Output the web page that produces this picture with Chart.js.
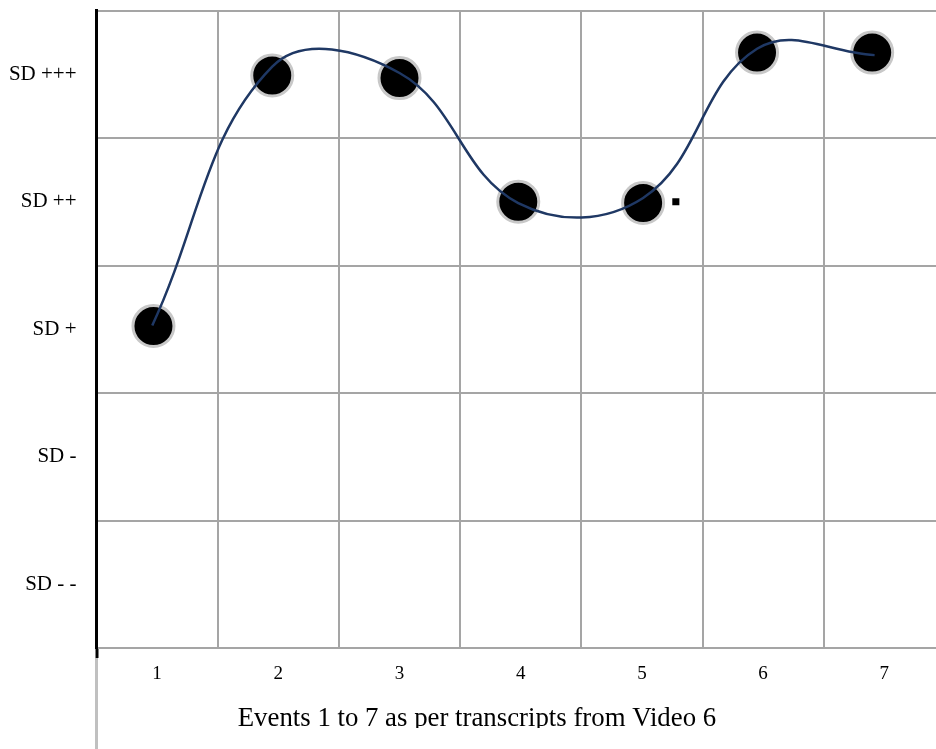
<!DOCTYPE html>
<html>
<head>
<meta charset="utf-8">
<script src="https://cdn.jsdelivr.net/npm/chart.js@4/dist/chart.umd.min.js"></script>
<style>
    html, body { margin: 0; padding: 0; background: #fff; overflow: hidden; }
    #wrap { position: relative; width: 936px; height: 749px; overflow: hidden; }
    #myChart { position: absolute; left: 0; top: 0; }
    #frameLine { position: absolute; left: 95px; top: 658px; width: 3px; height: 91px; background: #c0c0c0; }
</style>
</head>
<body>
<div id="wrap">
    <canvas id="myChart" width="946" height="728"></canvas>
    <div id="frameLine"></div>
</div>
<script>
"use strict";

//DATI
const eventTicks = [1, 2, 3, 4, 5, 6, 7];
const levelLabels = ["SD - -", "SD -", "SD +", "SD ++", "SD +++"];
const markerX = [0.97, 1.95, 3.0, 3.98, 5.01, 5.95, 6.9];
const markerLevel = [3.025, 4.99, 4.97, 4.0, 3.99, 5.17, 5.17];
const curveX = [0.96, 1.95, 3.0, 3.98, 5.01, 5.95, 6.92];
const curveLevel = [3.03, 5.06, 5.01, 3.99, 4.03, 5.2, 5.15];
const strayX = [5.28];
const strayLevel = [4.0];
const xTitle = "Events 1 to 7 as per transcripts from Video 6";

const gridColor = "#a5a5a5";
const serif = "'Liberation Serif', 'Times New Roman', serif";
const titleSize = 26.8;
const titleLine = 0.65;
const padLeft = 9;

function toPoints(xs, ys) {
    let pts = [];
    for (let i = 0; i < xs.length; i++) {
        pts.push({ x: xs[i], y: ys[i] });
    }
    return pts;
}

// ticks every half step: integers carry labels, halves carry grid lines
function halfSteps(from, to) {
    let t = [];
    for (let v = from; v <= to + 0.001; v += 0.5) {
        t.push({ value: v });
    }
    return t;
}

function isHalf(v) {
    return Math.abs(v - Math.round(v)) > 0.1;
}

//GRAFICO
let chart = new Chart(document.getElementById("myChart"), {
    type: "scatter",
    data: {
        datasets: [
            {
                data: toPoints(curveX, curveLevel),
                showLine: true,
                tension: 0.4,
                borderColor: "#1f3864",
                borderWidth: 2.5,
                pointRadius: 0,
                fill: false
            },
            {
                data: toPoints(markerX, markerLevel),
                pointRadius: 20.5,
                pointBorderWidth: 3,
                pointBackgroundColor: "#000",
                pointBorderColor: "#c8c8c8"
            },
            {
                data: toPoints(strayX, strayLevel),
                pointStyle: "rect",
                pointRadius: 5,
                pointBorderWidth: 0,
                pointBackgroundColor: "#000",
                pointBorderColor: "#000"
            }
        ]
    },
    options: {
        responsive: false,
        animation: false,
        events: [],
        layout: { autoPadding: false, padding: { top: 10.5, right: 1.1, bottom: 0, left: padLeft } },
        plugins: {
            legend: { display: false },
            tooltip: { enabled: false },
            title: {
                display: true,
                position: "bottom",
                text: xTitle,
                color: "#000",
                font: { family: serif, size: titleSize, weight: "normal", lineHeight: titleLine },
                padding: 0
            }
        },
        scales: {
            x: {
                type: "linear",
                min: 0.5,
                max: 7.5,
                afterBuildTicks: function (scale) { scale.ticks = halfSteps(0.5, 7.5); },
                afterFit: function (scale) {
                    scale.height = 80 - titleSize * titleLine;
                    scale.paddingLeft = 0;
                    scale.paddingRight = 0;
                },
                border: { display: false },
                grid: {
                    color: function (c) {
                        let v = c.tick ? c.tick.value : 0;
                        return (isHalf(v) && v > 0.6 && v < 7.4) ? gridColor : "rgba(0,0,0,0)";
                    },
                    lineWidth: 2,
                    drawTicks: true,
                    tickLength: 10,
                    tickWidth: 3,
                    tickColor: function (c) {
                        return (c.tick && c.tick.value < 0.6) ? "#000" : "rgba(0,0,0,0)";
                    }
                },
                ticks: {
                    autoSkip: false,
                    maxRotation: 0,
                    padding: 5,
                    color: "#000",
                    font: { family: serif, size: 19 },
                    callback: function (v) {
                        return isHalf(v) ? "" : (eventTicks.indexOf(Math.round(v)) >= 0 ? String(Math.round(v)) : "");
                    }
                }
            },
            y: {
                type: "linear",
                min: 0.5,
                max: 5.5,
                afterBuildTicks: function (scale) { scale.ticks = halfSteps(0.5, 5.5); },
                afterFit: function (scale) {
                    scale.width = 96.5 - padLeft;
                    scale.paddingTop = 0;
                    scale.paddingBottom = 0;
                },
                border: { display: true, color: "#000", width: 3 },
                grid: {
                    color: function (c) {
                        return (c.tick && isHalf(c.tick.value)) ? gridColor : "rgba(0,0,0,0)";
                    },
                    lineWidth: 2,
                    drawTicks: false
                },
                ticks: {
                    autoSkip: false,
                    padding: 20,
                    color: "#000",
                    font: { family: serif, size: 21 },
                    callback: function (v) {
                        return isHalf(v) ? "" : (levelLabels[Math.round(v) - 1] || "");
                    }
                }
            }
        }
    }
});
</script>
</body>
</html>
